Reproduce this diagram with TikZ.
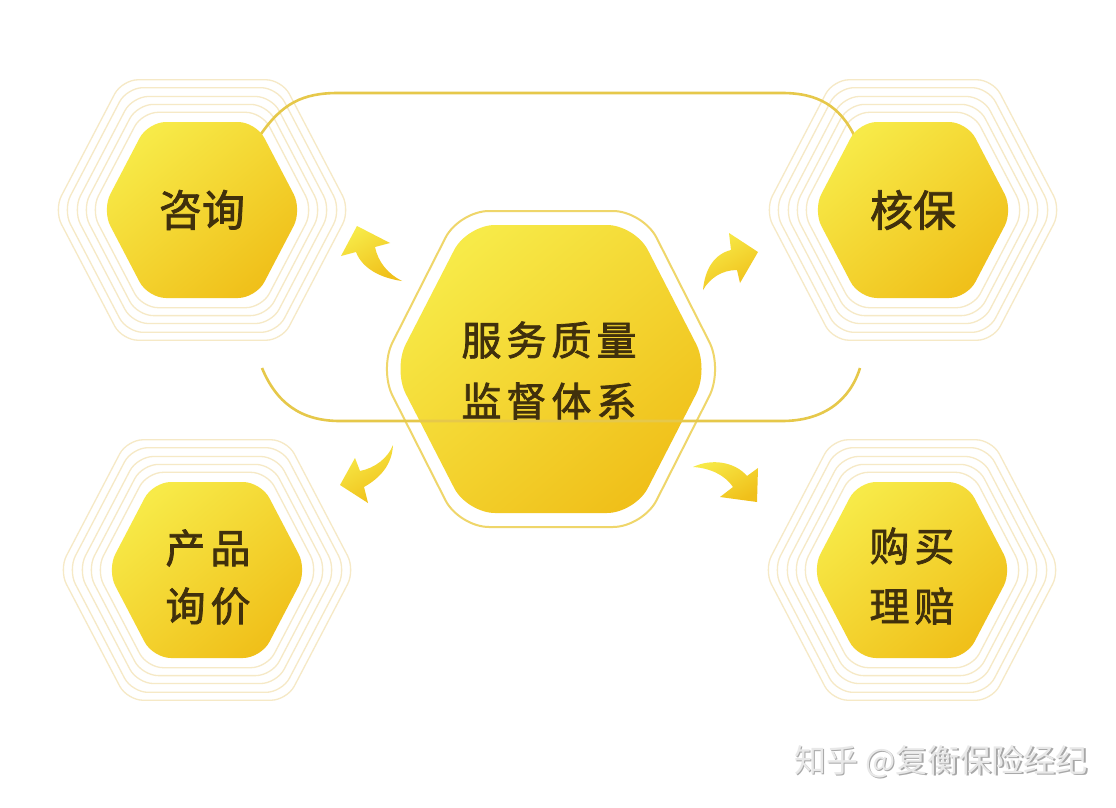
\documentclass[tikz,border=0pt]{standalone}
\usepackage{fontspec}
\newfontfamily\cjk[FakeBold=1.8]{Noto Sans CJK SC}
\newfontfamily\cjkwm{Noto Sans CJK SC}
\definecolor{hexA}{HTML}{F7EA48}
\definecolor{hexB}{HTML}{F0C01A}
\definecolor{ringC}{HTML}{F6E9C6}
\definecolor{cringC}{HTML}{EFD66A}
\definecolor{loopC}{HTML}{E6C84A}
\definecolor{txtC}{HTML}{40300C}
\definecolor{wmA}{HTML}{E8E8E8}
\definecolor{wmB}{HTML}{A8A8A8}
\newcommand\hexat[5]{(#1-#3,#2) -- (#1-#5,#2-#4) -- (#1+#5,#2-#4) -- (#1+#3,#2) -- (#1+#5,#2+#4) -- (#1-#5,#2+#4) -- cycle}
\newcommand\cjkgap{\hspace{5pt}}
\tikzset{
  ringline/.style={draw=ringC, line width=1.3pt, rounded corners=16pt},
  hexfill/.style={top color=hexA, bottom color=hexB, shading angle=40, rounded corners=18pt},
  bighexfill/.style={top color=hexA, bottom color=hexB, shading angle=40, rounded corners=28pt},
  bigring/.style={draw=cringC, line width=2pt, rounded corners=30pt},
  loopline/.style={draw=loopC, line width=2.6pt},
  arrowfill/.style={top color=hexA, bottom color=hexB, shading angle=30},
  hextext/.style={text=txtC, font=\cjk\fontsize{43}{50}\selectfont, inner sep=0pt},
  hextextb/.style={text=txtC, font=\cjk\fontsize{40}{48}\selectfont, inner sep=0pt},
  wmtext/.style={font=\cjkwm\fontsize{32}{38}\selectfont, inner sep=0pt, anchor=east}
}
\begin{document}
\begin{tikzpicture}[x=1pt, y=-1pt]
\useasboundingbox (0,0) rectangle (1116,808);
\fill[white] (0,0) rectangle (1116,808);
% rings of the four small hexagons
\foreach \cx/\cy in {202/210, 913/210, 207/570, 912/570}{
  \foreach \s in {1.11,1.2,1.29,1.39,1.48}{
    \draw[ringline] \hexat{\cx}{\cy}{100*\s}{88*\s}{54*\s};
  }
}
% central hexagon
\draw[bigring] \hexat{551}{369}{172}{158}{92};
\shade[bighexfill] \hexat{551}{369}{158}{144}{84};
% loop line
\coordinate (la) at (261,134);
\coordinate (lb) at (855,137);
\coordinate (lc) at (262,368);
\coordinate (ld) at (860,368);
\draw[loopline] (la) .. controls (282,104) and (302,93) .. (338,93) -- (782,93) .. controls (818,93) and (840,106) .. (lb);
\draw[loopline] (lc) .. controls (276,402) and (300,421) .. (340,421) -- (782,421) .. controls (824,421) and (850,400) .. (ld);
% small hexagon fills
\foreach \cx/\cy in {202/210, 913/210, 207/570, 912/570}{
  \shade[hexfill] \hexat{\cx}{\cy}{100}{88}{54};
}
% curved arrows
\coordinate (tlTail) at (402,281);
\coordinate (trTail) at (703,290);
\coordinate (blTail) at (393,445);
\coordinate (brTail) at (693,467);
\shade[arrowfill] (tlTail) .. controls (380,278) and (362,268) .. (356,252) -- (341,256) -- (357,226) -- (390,243) -- (375,247) .. controls (378,262) and (388,274) .. (tlTail) -- cycle;
\shade[arrowfill] (trTail) .. controls (705,268) and (715,254) .. (731,250) -- (729,233) -- (758,252) -- (740,283) -- (737,270) .. controls (722,270) and (710,278) .. (trTail) -- cycle;
\shade[arrowfill] (blTail) .. controls (392,465) and (380,478) .. (364,487) -- (368,503) -- (340,485) -- (355,458) -- (360,471) .. controls (375,468) and (388,458) .. (blTail) -- cycle;
\shade[arrowfill] (brTail) .. controls (712,458) and (735,462) .. (747,476) -- (758,468) -- (757,502) -- (720,497) -- (733,487) .. controls (725,475) and (710,468) .. (brTail) -- cycle;
% texts
\node[hextext] (zixun) at (202,210) {咨询};
\node[hextext] (hebao) at (913,210) {核保};
\node[hextextb] (chanpin) at (208,548) {产\cjkgap 品};
\node[hextextb] (xunjia) at (208,606) {询\cjkgap 价};
\node[hextextb] (goumai) at (912,546) {购\cjkgap 买};
\node[hextextb] (lipei) at (912,606) {理\cjkgap 赔};
\node[hextextb] (fuwu) at (549,340) {服\cjkgap 务\cjkgap 质\cjkgap 量};
\node[hextextb] (jiandu) at (549,401) {监\cjkgap 督\cjkgap 体\cjkgap 系};
% watermark
\node[wmtext, text=wmB] (wmshadow) at (1089.2,763.2) {知乎 @复衡保险经纪};
\node[wmtext, text=wmA] (wm) at (1088,762) {知乎 @复衡保险经纪};
\end{tikzpicture}
\end{document}
